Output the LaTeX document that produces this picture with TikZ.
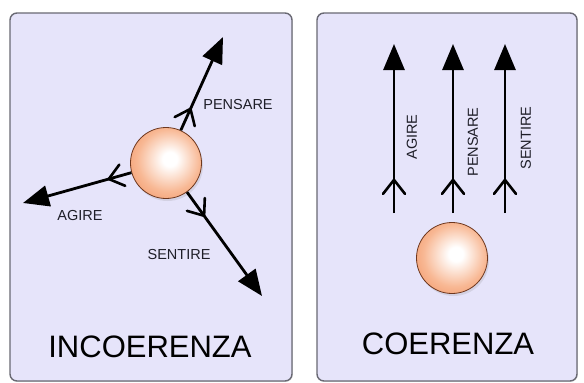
\documentclass[tikz,border=0pt]{standalone}
\usepackage{fontspec}
\setmainfont{Liberation Sans}
\usetikzlibrary{arrows.meta,decorations.markings,shadows}
\definecolor{panelfill}{RGB}{230,228,250}
\definecolor{paneldraw}{RGB}{105,105,115}
\definecolor{ballorange}{RGB}{238,128,74}
\definecolor{ballmid}{RGB}{248,184,148}
\definecolor{ballrim}{RGB}{110,55,30}
\definecolor{labelcol}{RGB}{30,30,40}
\pgfdeclareradialshading{ballshade}{\pgfpoint{3bp}{3bp}}{%
  color(0bp)=(white); color(5bp)=(white); color(22bp)=(ballmid);
  color(42bp)=(ballorange); color(60bp)=(ballorange)}
\tikzset{
  panel/.style={draw=paneldraw,line width=1.4pt,fill=panelfill,rounded corners=7pt,
    drop shadow={opacity=0.25,shadow xshift=0.8pt,shadow yshift=-0.8pt}},
  ball/.style={circle,inner sep=0pt,minimum size=71pt,draw=ballrim,line width=0.8pt,
    shading=ballshade,
    drop shadow={opacity=0.18,shadow xshift=1.5pt,shadow yshift=-2.5pt}},
  flow/.style={line width=2.8pt,black,-{Triangle[length=26pt,width=21pt]},
    decoration={markings,mark=at position #1 with {%
      \draw[arrows=-,line width=2.6pt,line join=miter,line cap=round,black] (-13pt,11pt) .. controls (-6pt,5pt) .. (1pt,0pt) .. controls (-6pt,-5pt) .. (-13pt,-11pt);}},
    postaction=decorate},
  flow/.default=0.22,
  lab/.style={text=labelcol,font=\fontsize{14.5}{17}\selectfont,inner sep=0pt},
  title/.style={text=black,font=\fontsize{31}{36}\selectfont,inner sep=0pt}
}
\begin{document}
\begin{tikzpicture}[x=1pt,y=-1pt]
\useasboundingbox (0,0) rectangle (584,383);
\fill[white] (0,0) rectangle (584,383);
% panels
\path[panel] (10,13) rectangle (292,381);
\path[panel] (317,13) rectangle (577,381);
% left panel
\node[ball] (b1) at (166,163) {};
\coordinate (tp) at (223,37);
\coordinate (ta) at (23,203);
\coordinate (ts) at (262,296);
\draw[flow=0.22] (b1) -- (tp);
\draw[flow=0.2] (b1) -- (ta);
\draw[flow=0.22] (b1) -- (ts);
\node[lab] (lp) at (238,105) {PENSARE};
\node[lab] (la) at (80,216) {AGIRE};
\node[lab] (ls) at (179,255) {SENTIRE};
\node[title] (t1) at (150,346.5) {INCOERENZA};
% right panel
\coordinate (a1) at (394,213);
\coordinate (a2) at (453,213);
\coordinate (a3) at (505,213);
\coordinate (e1) at (394,44);
\coordinate (e2) at (453,44);
\coordinate (e3) at (505,44);
\draw[flow=0.19] (a1) -- (e1);
\draw[flow=0.19] (a2) -- (e2);
\draw[flow=0.19] (a3) -- (e3);
\node[lab,rotate=90] (ra) at (412,137) {AGIRE};
\node[lab,rotate=90] (rp) at (473,142) {PENSARE};
\node[lab,rotate=90] (rs) at (526,138) {SENTIRE};
\node[ball] (b2) at (452,258) {};
\node[title] (t2) at (448,344) {COERENZA};
\end{tikzpicture}
\end{document}
